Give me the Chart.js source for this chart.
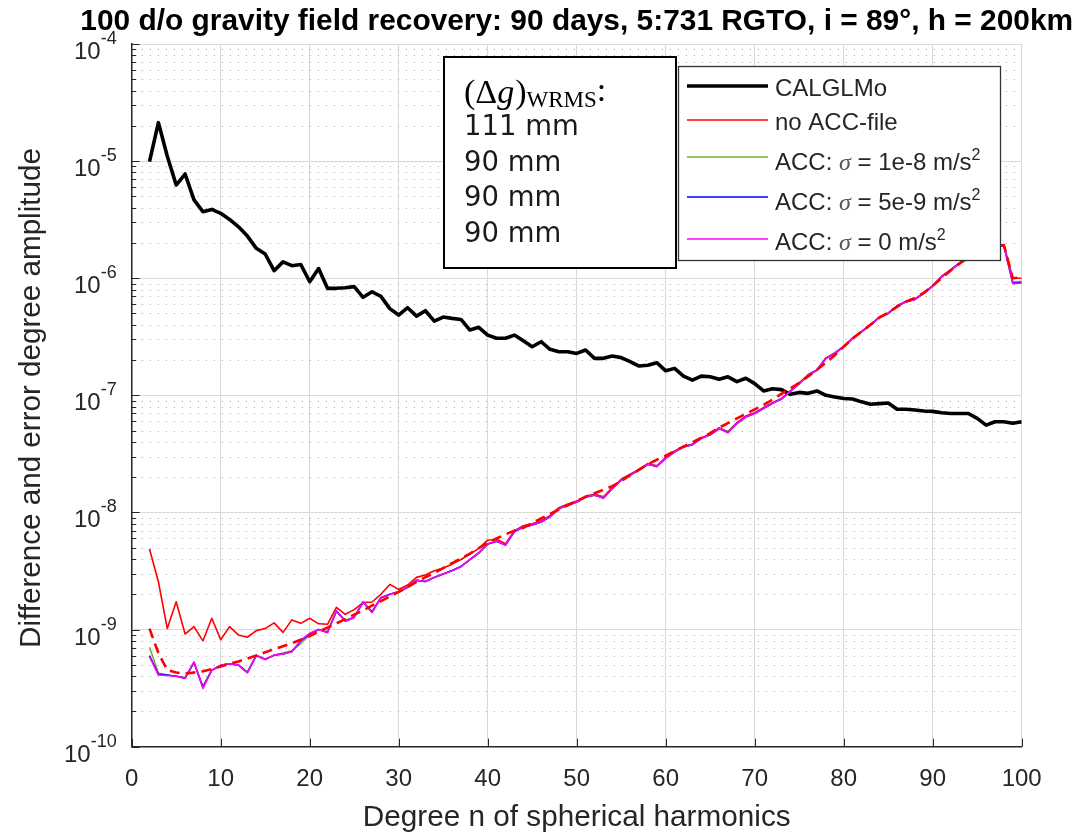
<!DOCTYPE html>
<html><head><meta charset="utf-8">
<script src="https://cdn.jsdelivr.net/npm/chart.js@4.4.1/dist/chart.umd.min.js"></script>
<style>html,body{margin:0;padding:0;background:#fff}#wrap{width:1082px;height:834px;position:relative}</style>
</head><body><div id="wrap"><canvas id="c" width="1082" height="834"></canvas></div>
<script>
// ---------------- data ----------------
const degrees = [2,3,4,5,6,7,8,9,10,11,12,13,14,15,16,17,18,19,20,21,22,23,24,25,26,27,28,29,30,31,32,33,34,35,36,37,38,39,40,41,42,43,44,45,46,47,48,49,50,51,52,53,54,55,56,57,58,59,60,61,62,63,64,65,66,67,68,69,70,71,72,73,74,75,76,77,78,79,80,81,82,83,84,85,86,87,88,89,90,91,92,93,94,95,96,97,98,99,100];

const calglmo = [9.9e-6,2.13e-5,1.1e-5,6.25e-6,7.76e-6,4.66e-6,3.7e-6,3.87e-6,3.58e-6,3.18e-6,2.75e-6,2.29e-6,1.8e-6,1.61e-6,1.16e-6,1.38e-6,1.28e-6,1.31e-6,9.33e-7,1.21e-6,8.2e-7,8.2e-7,8.3e-7,8.48e-7,6.87e-7,7.67e-7,7.0e-7,5.5e-7,4.85e-7,5.6e-7,4.75e-7,5.28e-7,4.3e-7,4.66e-7,4.54e-7,4.45e-7,3.61e-7,3.81e-7,3.27e-7,3.07e-7,3.07e-7,3.27e-7,2.92e-7,2.6e-7,2.87e-7,2.47e-7,2.36e-7,2.36e-7,2.28e-7,2.44e-7,2.07e-7,2.07e-7,2.17e-7,2.1e-7,1.94e-7,1.78e-7,1.81e-7,1.9e-7,1.62e-7,1.7e-7,1.46e-7,1.35e-7,1.46e-7,1.44e-7,1.37e-7,1.44e-7,1.31e-7,1.4e-7,1.26e-7,1.09e-7,1.14e-7,1.12e-7,1.02e-7,1.06e-7,1.04e-7,1.09e-7,1.0e-7,9.7e-8,9.4e-8,9.3e-8,8.8e-8,8.4e-8,8.5e-8,8.6e-8,7.6e-8,7.6e-8,7.5e-8,7.35e-8,7.3e-8,7.1e-8,7.0e-8,7.0e-8,7.0e-8,6.36e-8,5.57e-8,5.95e-8,5.95e-8,5.77e-8,5.95e-8];

const noAccFile = [4.87e-9,2.56e-9,1.02e-9,1.73e-9,9.16e-10,1.06e-9,8.0e-10,1.25e-9,8.2e-10,1.06e-9,8.98e-10,8.6e-10,9.8e-10,1.02e-9,1.14e-9,9.46e-10,1.21e-9,1.13e-9,1.25e-9,1.12e-9,1.11e-9,1.55e-9,1.35e-9,1.48e-9,1.7e-9,1.72e-9,2.0e-9,2.43e-9,2.2e-9,2.4e-9,2.79e-9,2.92e-9,3.18e-9,3.35e-9,3.62e-9,3.97e-9,4.41e-9,4.93e-9,5.8e-9,5.9e-9,5.4e-9,7.0e-9,7.7e-9,8.0e-9,8.5e-9,9.4e-9,1.1e-8,1.18e-8,1.25e-8,1.38e-8,1.43e-8,1.36e-8,1.63e-8,1.92e-8,2.12e-8,2.33e-8,2.62e-8,2.5e-8,2.95e-8,3.35e-8,3.68e-8,3.83e-8,4.35e-8,4.65e-8,5.3e-8,4.9e-8,5.85e-8,6.65e-8,7.1e-8,7.85e-8,8.65e-8,9.4e-8,1.09e-7,1.28e-7,1.5e-7,1.65e-7,2.08e-7,2.3e-7,2.62e-7,3.1e-7,3.52e-7,4.0e-7,4.66e-7,5.05e-7,5.82e-7,6.35e-7,6.65e-7,7.5e-7,8.65e-7,1.04e-6,1.18e-6,1.35e-6,1.52e-6,1.65e-6,1.76e-6,1.88e-6,1.92e-6,1.0e-6,1.0e-6];

const acc1e8 = [7.06e-10,4.25e-10,4.1e-10,4.0e-10,3.9e-10,5.2e-10,3.3e-10,4.5e-10,4.95e-10,5.1e-10,5.0e-10,4.35e-10,6.0e-10,5.6e-10,6.0e-10,6.3e-10,6.6e-10,7.6e-10,9.0e-10,1.0e-9,9.6e-10,1.43e-9,1.2e-9,1.28e-9,1.7e-9,1.43e-9,1.86e-9,2.0e-9,2.08e-9,2.3e-9,2.62e-9,2.58e-9,2.8e-9,2.99e-9,3.2e-9,3.46e-9,3.95e-9,4.5e-9,5.35e-9,5.65e-9,5.3e-9,6.85e-9,7.5e-9,7.85e-9,8.35e-9,9.2e-9,1.07e-8,1.15e-8,1.22e-8,1.35e-8,1.4e-8,1.35e-8,1.62e-8,1.88e-8,2.1e-8,2.28e-8,2.57e-8,2.5e-8,2.92e-8,3.28e-8,3.62e-8,3.8e-8,4.28e-8,4.62e-8,5.2e-8,4.9e-8,5.75e-8,6.5e-8,7.05e-8,7.7e-8,8.6e-8,9.3e-8,1.08e-7,1.27e-7,1.5e-7,1.66e-7,2.06e-7,2.3e-7,2.62e-7,3.05e-7,3.5e-7,4.0e-7,4.6e-7,5.02e-7,5.8e-7,6.3e-7,6.62e-7,7.45e-7,8.6e-7,1.03e-6,1.17e-6,1.34e-6,1.5e-6,1.64e-6,1.75e-6,1.87e-6,1.9e-6,9.3e-7,9.4e-7];

const acc5e9 = [6.0e-10,4.15e-10,4.1e-10,4.0e-10,3.85e-10,5.25e-10,3.2e-10,4.5e-10,4.95e-10,5.1e-10,4.97e-10,4.3e-10,6.0e-10,5.55e-10,6.05e-10,6.2e-10,6.5e-10,8.0e-10,9.2e-10,1.0e-9,9.45e-10,1.44e-9,1.18e-9,1.27e-9,1.72e-9,1.41e-9,1.87e-9,2.0e-9,2.1e-9,2.3e-9,2.64e-9,2.57e-9,2.79e-9,2.98e-9,3.19e-9,3.45e-9,3.96e-9,4.52e-9,5.38e-9,5.68e-9,5.28e-9,6.88e-9,7.52e-9,7.82e-9,8.3e-9,9.2e-9,1.08e-8,1.16e-8,1.23e-8,1.36e-8,1.41e-8,1.33e-8,1.6e-8,1.89e-8,2.09e-8,2.3e-8,2.58e-8,2.47e-8,2.9e-8,3.3e-8,3.63e-8,3.79e-8,4.3e-8,4.6e-8,5.2e-8,4.82e-8,5.77e-8,6.55e-8,7.0e-8,7.75e-8,8.55e-8,9.3e-8,1.08e-7,1.26e-7,1.49e-7,1.64e-7,2.07e-7,2.28e-7,2.6e-7,3.07e-7,3.49e-7,3.98e-7,4.63e-7,5.0e-7,5.79e-7,6.3e-7,6.6e-7,7.43e-7,8.58e-7,1.03e-6,1.17e-6,1.34e-6,1.51e-6,1.64e-6,1.74e-6,1.86e-6,1.9e-6,9.1e-7,9.2e-7];

const acc0 = [5.86e-10,4.09e-10,4.05e-10,4.0e-10,3.83e-10,5.3e-10,3.15e-10,4.5e-10,4.97e-10,5.1e-10,4.97e-10,4.28e-10,6.05e-10,5.56e-10,6.05e-10,6.2e-10,6.47e-10,8.13e-10,9.3e-10,1.0e-9,9.4e-10,1.45e-9,1.18e-9,1.27e-9,1.73e-9,1.4e-9,1.88e-9,2.0e-9,2.1e-9,2.31e-9,2.65e-9,2.56e-9,2.79e-9,2.98e-9,3.18e-9,3.44e-9,3.97e-9,4.53e-9,5.4e-9,5.7e-9,5.27e-9,6.9e-9,7.55e-9,7.8e-9,8.3e-9,9.18e-9,1.08e-8,1.16e-8,1.23e-8,1.36e-8,1.41e-8,1.32e-8,1.6e-8,1.89e-8,2.09e-8,2.3e-8,2.59e-8,2.46e-8,2.9e-8,3.3e-8,3.64e-8,3.78e-8,4.3e-8,4.6e-8,5.22e-8,4.8e-8,5.77e-8,6.56e-8,7.0e-8,7.74e-8,8.55e-8,9.3e-8,1.08e-7,1.26e-7,1.49e-7,1.64e-7,2.07e-7,2.28e-7,2.6e-7,3.07e-7,3.49e-7,3.98e-7,4.63e-7,5.0e-7,5.79e-7,6.3e-7,6.6e-7,7.43e-7,8.58e-7,1.03e-6,1.17e-6,1.34e-6,1.51e-6,1.64e-6,1.74e-6,1.86e-6,1.9e-6,9.0e-7,9.1e-7];

const formalError = [1.02e-9,6.3e-10,4.5e-10,4.3e-10,4.2e-10,4.3e-10,4.4e-10,4.6e-10,4.85e-10,5.1e-10,5.35e-10,5.65e-10,6.0e-10,6.4e-10,6.8e-10,7.2e-10,7.65e-10,8.2e-10,8.8e-10,9.6e-10,1.04e-9,1.13e-9,1.23e-9,1.34e-9,1.46e-9,1.6e-9,1.75e-9,1.92e-9,2.1e-9,2.3e-9,2.55e-9,2.8e-9,3.05e-9,3.35e-9,3.7e-9,4.05e-9,4.45e-9,4.95e-9,5.5e-9,6.0e-9,6.5e-9,7.0e-9,7.4e-9,8.1e-9,8.9e-9,9.7e-9,1.06e-8,1.15e-8,1.25e-8,1.36e-8,1.46e-8,1.56e-8,1.68e-8,1.85e-8,2.08e-8,2.32e-8,2.58e-8,2.82e-8,3.05e-8,3.35e-8,3.65e-8,3.98e-8,4.35e-8,4.75e-8,5.3e-8,5.8e-8,6.35e-8,6.95e-8,7.6e-8,8.3e-8,9.2e-8,1.03e-7,1.15e-7,1.28e-7,1.45e-7,1.65e-7,1.9e-7,2.2e-7,2.6e-7,3.05e-7,3.5e-7,4.0e-7,4.6e-7,5.1e-7,5.7e-7,6.3e-7,6.8e-7,7.5e-7,8.6e-7,1.0e-6,1.16e-6,1.33e-6,1.5e-6,1.64e-6,1.76e-6,1.88e-6,1.92e-6,1.0e-6,1.02e-6];

const yDecadeValues = [1e-10,1e-9,1e-8,1e-7,1e-6,1e-5,1e-4];
const yDecadeExponents = ['-10','-9','-8','-7','-6','-5','-4'];
const xTickValues = [0,10,20,30,40,50,60,70,80,90,100];
const seriesNames = ['CALGLMo','no ACC-file','ACC: σ = 1e-8 m/s²','ACC: σ = 5e-9 m/s²','ACC: σ = 0 m/s²'];
const wrmsHeader = ['(', 'Δ', 'g', ')', 'WRMS', ':'];
const wrmsValues = ['111 mm','90 mm','90 mm','90 mm'];
const titleText = '100 d/o gravity field recovery: 90 days, 5:731 RGTO, i = 89°, h = 200km';
const xTitle = 'Degree n of spherical harmonics';
const yTitle = 'Difference and error degree amplitude';

// ---------------- chart ----------------
const TXT = '#262626';
const pts = arr => degrees.map((d, i) => ({x: d, y: arr[i]}));

function fitFont(ctx, text, weight, family, target) {
  ctx.font = weight + ' 20px ' + family;
  const w = ctx.measureText(text).width;
  return 20 * target / w;
}

function drawSegs(ctx, x, base, segs) {
  for (const s of segs) {
    ctx.font = s.font;
    ctx.fillStyle = s.color || TXT;
    ctx.fillText(s.t, x, base + (s.dy || 0));
    x += ctx.measureText(s.t).width + (s.after || 0);
  }
  return x;
}

const overlay = {
  id: 'overlay',
  beforeDatasetsDraw(chart) {
    const {ctx, chartArea: a, scales: {x, y}} = chart;
    ctx.save();
    // minor y grid (dotted)
    ctx.strokeStyle = '#b8b8b8';
    ctx.lineWidth = 1;
    ctx.setLineDash([1.3, 6.7]);
    for (let e = -10; e < -4; e++) {
      for (let m = 2; m <= 9; m++) {
        const py = Math.round(y.getPixelForValue(m * Math.pow(10, e))) + 0.5;
        ctx.beginPath(); ctx.moveTo(a.left + 2, py); ctx.lineTo(a.right, py); ctx.stroke();
      }
    }
    ctx.setLineDash([]);
    // tick marks (inside)
    ctx.strokeStyle = TXT;
    ctx.lineWidth = 1;
    for (let e = -10; e <= -4; e++) {
      const py = Math.round(y.getPixelForValue(Math.pow(10, e))) + 0.5;
      ctx.beginPath(); ctx.moveTo(a.left, py); ctx.lineTo(a.left + 8, py); ctx.stroke();
      if (e < -4) for (let m = 2; m <= 9; m++) {
        const q = Math.round(y.getPixelForValue(m * Math.pow(10, e))) + 0.5;
        ctx.beginPath(); ctx.moveTo(a.left, q); ctx.lineTo(a.left + 4.5, q); ctx.stroke();
      }
    }
    for (const v of xTickValues) {
      const px = Math.round(x.getPixelForValue(v)) + 0.5;
      ctx.beginPath(); ctx.moveTo(px, a.bottom); ctx.lineTo(px, a.bottom - 8); ctx.stroke();
    }
    ctx.restore();
  },
  afterDraw(chart) {
    const {ctx, chartArea: a, scales: {x, y}} = chart;
    ctx.save();
    ctx.textBaseline = 'alphabetic';
    // y tick labels
    yDecadeValues.forEach((v, i) => {
      const py = y.getPixelForValue(v);
      ctx.font = '18px "Liberation Sans", Arial, sans-serif';
      const sw = ctx.measureText(yDecadeExponents[i]).width;
      ctx.font = '24px "Liberation Sans", Arial, sans-serif';
      const bw = ctx.measureText('10').width;
      const right = a.left - 15;
      ctx.fillStyle = TXT;
      ctx.textAlign = 'left';
      ctx.fillText('10', right - sw - bw, py + 15);
      ctx.font = '18px "Liberation Sans", Arial, sans-serif';
      ctx.fillText(yDecadeExponents[i], right - sw, py);
    });
    // x tick labels
    ctx.font = '24px "Liberation Sans", Arial, sans-serif';
    ctx.textAlign = 'center';
    ctx.fillStyle = TXT;
    for (const v of xTickValues) ctx.fillText(String(v), x.getPixelForValue(v), 786);
    // axis titles
    const cx = (a.left + a.right) / 2;
    let fs = fitFont(ctx, xTitle, '', '"Liberation Sans", Arial, sans-serif', 428);
    ctx.font = fs.toFixed(2) + 'px "Liberation Sans", Arial, sans-serif';
    ctx.fillText(xTitle, cx, 826);
    fs = fitFont(ctx, yTitle, '', '"Liberation Sans", Arial, sans-serif', 500);
    ctx.save();
    ctx.translate(40, 398);
    ctx.rotate(-Math.PI / 2);
    ctx.font = fs.toFixed(2) + 'px "Liberation Sans", Arial, sans-serif';
    ctx.fillText(yTitle, 0, 0);
    ctx.restore();
    // title
    fs = fitFont(ctx, titleText, 'bold', '"Liberation Sans", Arial, sans-serif', 993);
    ctx.font = 'bold ' + fs.toFixed(2) + 'px "Liberation Sans", Arial, sans-serif';
    ctx.fillStyle = '#000';
    ctx.fillText(titleText, cx, 30);
    ctx.textAlign = 'left';

    // WRMS text box
    ctx.fillStyle = '#fff';
    ctx.fillRect(443, 56, 234, 213);
    ctx.strokeStyle = '#000';
    ctx.lineWidth = 2;
    ctx.strokeRect(444, 57, 232, 211);
    const serif = '"Liberation Serif", "Times New Roman", serif';
    drawSegs(ctx, 464, 103, [
      {t: wrmsHeader[0], font: '34px ' + serif, color: '#000'},
      {t: wrmsHeader[1], font: '34px ' + serif, color: '#000'},
      {t: wrmsHeader[2], font: 'italic 34px ' + serif, color: '#000', after: 1},
      {t: wrmsHeader[3], font: '34px ' + serif, color: '#000'},
      {t: wrmsHeader[4], font: '23px ' + serif, color: '#000', dy: 4},
      {t: wrmsHeader[5], font: '34px ' + serif, color: '#000', dy: -2}
    ]);
    ctx.font = '27.5px "DejaVu Sans", sans-serif';
    ctx.fillStyle = '#1a1a1a';
    wrmsValues.forEach((t, i) => ctx.fillText(t, 464, 135 + i * 35.6));

    // legend box
    ctx.fillStyle = '#fff';
    ctx.fillRect(678, 66, 323, 195);
    ctx.strokeStyle = '#333';
    ctx.lineWidth = 1.3;
    ctx.strokeRect(678.5, 66.5, 322, 194);
    const sans = '"Liberation Sans", Arial, sans-serif';
    const rows = [
      {color: '#000', w: 3.5, ly: 86, by: 96},
      {color: '#ff0000', w: 1.5, ly: 120, by: 129.5},
      {color: '#77ac30', w: 1.5, ly: 157, by: 169.5},
      {color: '#0000ff', w: 1.5, ly: 197, by: 210},
      {color: '#ff00ff', w: 1.5, ly: 239, by: 250}
    ];
    rows.forEach((r, i) => {
      ctx.strokeStyle = r.color;
      ctx.lineWidth = r.w;
      ctx.beginPath(); ctx.moveTo(687, r.ly); ctx.lineTo(768, r.ly); ctx.stroke();
      const name = seriesNames[i];
      if (name.indexOf('σ') < 0) {
        drawSegs(ctx, 775, r.by, [{t: name, font: '24px ' + sans}]);
      } else {
        const parts = name.split('σ');
        const tail = parts[1].replace('²', '');
        drawSegs(ctx, 775, r.by, [
          {t: parts[0], font: '24px ' + sans},
          {t: 'σ', font: 'italic 24px ' + serif, color: '#555'},
          {t: tail, font: '24px ' + sans},
          {t: '2', font: '16px ' + sans, dy: -10}
        ]);
      }
    });
    ctx.restore();
  }
};

const ctx = document.getElementById('c').getContext('2d');
new Chart(ctx, {
  type: 'line',
  data: {
    datasets: [
      {label: 'formal', data: pts(formalError), borderColor: '#ff0000', borderWidth: 2.6, borderDash: [10, 6], order: 0},
      {label: seriesNames[4], data: pts(acc0), borderColor: '#ff00ff', borderWidth: 1.6, order: 1},
      {label: seriesNames[3], data: pts(acc5e9), borderColor: '#0000ff', borderWidth: 1.6, order: 2},
      {label: seriesNames[2], data: pts(acc1e8), borderColor: '#77ac30', borderWidth: 1.6, order: 3},
      {label: seriesNames[1], data: pts(noAccFile), borderColor: '#ff0000', borderWidth: 1.6, order: 4},
      {label: seriesNames[0], data: pts(calglmo), borderColor: '#000000', borderWidth: 3.6, order: 5}
    ]
  },
  options: {
    responsive: false,
    animation: false,
    devicePixelRatio: 1,
    layout: {padding: {top: 44, right: 60.3, bottom: 0, left: 0}},
    elements: {
      point: {radius: 0, hoverRadius: 0},
      line: {tension: 0, fill: false, borderJoinStyle: 'round', borderCapStyle: 'butt'}
    },
    plugins: {legend: {display: false}, tooltip: {enabled: false}, title: {display: false}},
    events: [],
    scales: {
      x: {
        type: 'linear', min: 0, max: 100,
        ticks: {stepSize: 10, display: false},
        grid: {color: '#d9d9d9', lineWidth: 1, drawTicks: false},
        border: {display: true, color: TXT, width: 1.5},
        afterFit: s => { s.height = 87.3; }
      },
      y: {
        type: 'logarithmic', min: 1e-10, max: 1e-4,
        afterBuildTicks: s => { s.ticks = yDecadeValues.map(v => ({value: v, major: true})); },
        ticks: {display: false},
        grid: {color: '#d9d9d9', lineWidth: 1, drawTicks: false},
        border: {display: true, color: TXT, width: 1.5},
        afterFit: s => { s.width = 131.7; }
      }
    }
  },
  plugins: [overlay]
});
</script>
</body></html>
